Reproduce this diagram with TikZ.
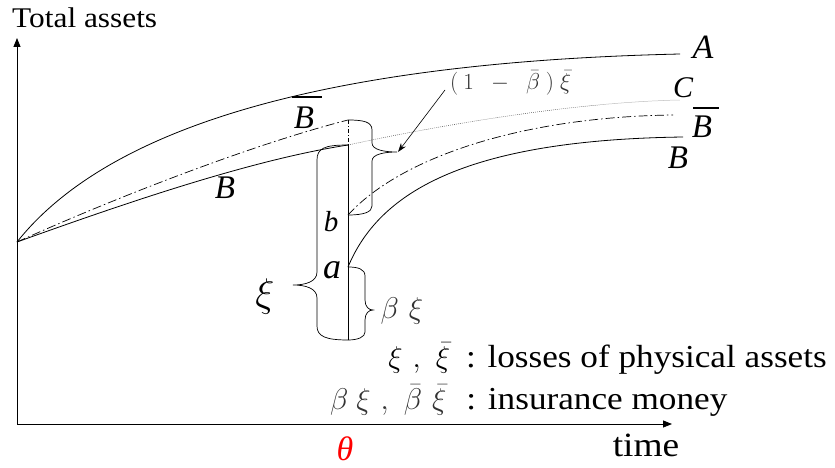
\RequirePackage{fix-cm}
\documentclass[tikz,border=0pt]{standalone}
\usepackage{fontspec}
\newfontfamily\tms{Liberation Serif}[FakeStretch=1.1]
\newfontfamily\tmn{Liberation Serif}
\usetikzlibrary{arrows.meta}
\newcommand{\fsz}[1]{\fontsize{#1}{#1}\selectfont}
\begin{document}
\begin{tikzpicture}[x=1pt,y=-1pt,
  curve/.style={line width=0.8pt},
  dashdot/.style={line width=0.7pt,dash pattern=on 9pt off 3pt on 1.5pt off 3pt},
  dotline/.style={line width=0.5pt,black!70,dash pattern=on 0.8pt off 1.2pt},
  bracepath/.style={line width=0.7pt},
  lbl/.style={inner sep=0pt},
]
\useasboundingbox (0,0) rectangle (835,468);
% key points
\coordinate (O) at (17,242);
\coordinate (Yt) at (17,38);
\coordinate (Xo) at (17,424);
\coordinate (Xt) at (672,424);
\coordinate (Aend) at (680,54);
\coordinate (Dtop) at (348,120);
\coordinate (Btop) at (348,145);
\coordinate (Pb) at (348,215);
\coordinate (Pa) at (348,267);
\coordinate (Pbot) at (348,340);
\coordinate (Cend) at (680,100);
\coordinate (Dend) at (673,115);
\coordinate (Bend) at (683,137);
% axes
\draw[line width=0.8pt,-{Triangle[length=9pt,width=7pt]}] (Xo) -- (Yt);
\draw[line width=0.8pt,-{Triangle[length=9pt,width=7pt]}] (Xo) -- (Xt);
% curves
\draw[curve] (O) .. controls (110,125) and (330,62) .. (Aend);
\draw[dashdot] (O) .. controls (110,200) and (250,145) .. (Dtop);
\draw[curve] (O) .. controls (120,205) and (250,160) .. (Btop);
\draw[dotline] (Btop) .. controls (450,123) and (580,102) .. (Cend);
\draw[dashdot] (Pb) .. controls (400,158) and (520,117) .. (Dend);
\draw[curve] (Pa) .. controls (378,195) and (460,140) .. (Bend);
% vertical
\draw[line width=0.9pt] (Btop) -- (Pbot);
\draw[line width=0.5pt,dash pattern=on 4pt off 2pt on 1pt off 2pt] (Dtop) -- (Btop);
% braces
\draw[bracepath] (Btop) .. controls (325,145) and (317,148) .. (317,160) -- (317,272)
  .. controls (317,282) and (305,285) .. (293,285)
  .. controls (305,285) and (317,288) .. (317,298) -- (317,326)
  .. controls (317,336) and (325,340) .. (Pbot);
\draw[bracepath] (Dtop) .. controls (364,120) and (372,122) .. (372,130) -- (372,143)
  .. controls (372,150) and (385,152) .. (397,152)
  .. controls (385,152) and (372,154) .. (372,161) -- (372,206)
  .. controls (372,212) and (364,215) .. (Pb);
\draw[bracepath] (Pa) .. controls (358,267) and (365,269) .. (365,276) -- (365,300)
  .. controls (365,307) and (369,310) .. (373,310)
  .. controls (369,310) and (365,313) .. (365,320) -- (365,332)
  .. controls (365,337) and (358,340) .. (Pbot);
% arrow
\coordinate (arrS) at (445,90);
\coordinate (arrE) at (398,152);
\draw[line width=0.6pt,-{Stealth[length=9pt,width=6pt]}] (arrS) -- (arrE);
% labels
\node[lbl,anchor=base west] (ytitle) at (12,28) {\tms\fsz{28.5}Total assets};
\node[lbl,anchor=base] (xtitle) at (646,456) {\tms\fsz{34}time};
\node[lbl,text=red] (theta) at (345,449) {\tmn\fsz{34}\itshape θ};
\node[lbl] (lA) at (703,47) {\tmn\fsz{34}\itshape A};
\node[lbl] (lC) at (683,88) {\tmn\fsz{30}\itshape C};
\node[lbl] (lBbr) at (702,127) {\tmn\fsz{33}\itshape B};
\draw[line width=1.6pt] (693,108) -- (719,108);
\node[lbl] (lBr) at (678,158) {\tmn\fsz{33}\itshape B};
\node[lbl] (lBbl) at (304,118) {\tmn\fsz{33}\itshape B};
\draw[line width=1.6pt] (292,97) -- (322,97);
\node[lbl] (lBl) at (225,188) {\tmn\fsz{33}\itshape B};
\node[lbl] (lb) at (331,222) {\tmn\fsz{29}\itshape b};
\node[lbl] (la) at (332,270) {\tmn\fsz{36}\itshape a};
\node[lbl] (lxi) at (265,296) {\fsz{40}$\xi$};
\node[lbl,text=black!80] (lbx) at (402,311) {\fsz{30}$\beta\hspace{10pt}\xi$};
\node[lbl,text=black!80,anchor=west] (lbar) at (450,83) {\fsz{23}$(\hspace{5pt}1\hspace{12pt}-\hspace{12pt}\bar\beta\hspace{6pt})\hspace{6pt}\bar\xi$};
\node[lbl,anchor=base east] (leg1) at (827,367) {\fsz{30}$\xi\hspace{10pt},\hspace{10pt}\bar\xi$\hspace{16pt}\tms\fsz{32}: losses of physical assets};
\node[lbl,anchor=base west] (leg2) at (330,409) {\fsz{30}\color{black!80}$\beta\hspace{8pt}\xi\hspace{10pt},\hspace{10pt}\bar\beta\hspace{10pt}\bar\xi$\hspace{20pt}\tms\fsz{32}\color{black}: insurance money};
\end{tikzpicture}
\end{document}
